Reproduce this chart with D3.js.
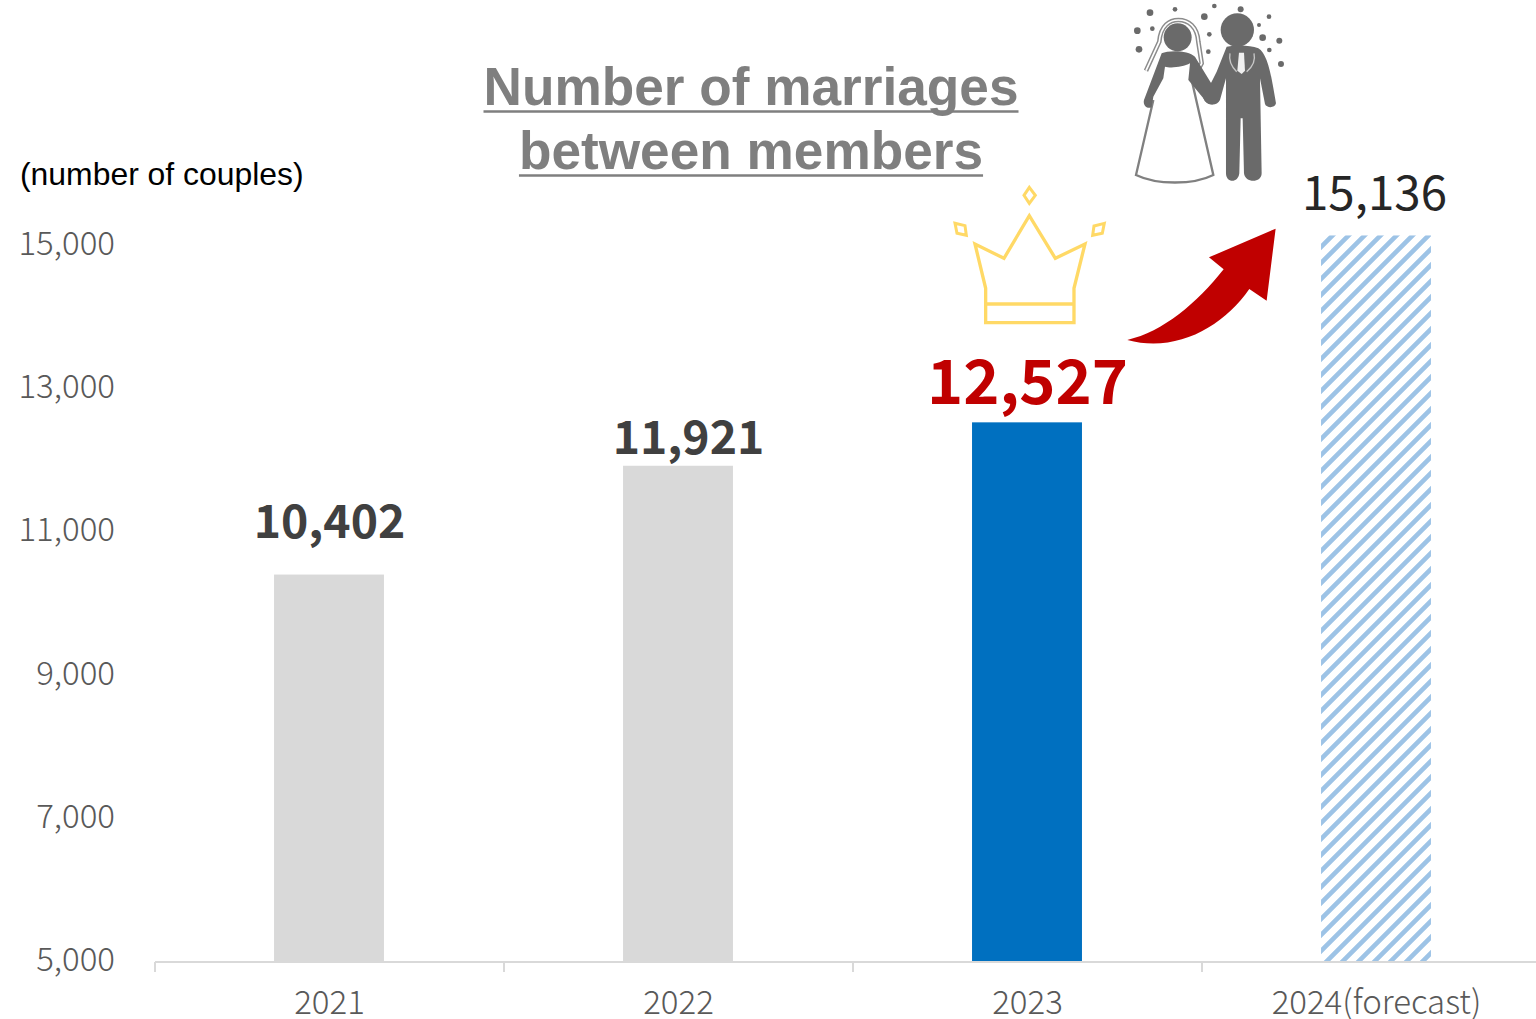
<!DOCTYPE html>
<html>
<head>
<meta charset="utf-8">
<script src="https://cdn.jsdelivr.net/npm/d3@7/dist/d3.min.js"></script>
<style>
html,body{margin:0;padding:0;background:#fff;overflow:hidden}
svg{display:block}
.cjk{font-family:"Noto Sans CJK JP","Noto Sans",sans-serif}
.latin{font-family:"Liberation Sans",Arial,sans-serif}
</style>
</head>
<body>
<svg id="chart" width="1536" height="1019"></svg>
<script>
// Marriages between members, by year
const years = ["2021", "2022", "2023", "2024(forecast)"];
const couples = [10402, 11921, 12527, 15136];
const yTicks = [5000, 7000, 9000, 11000, 13000, 15000];
const titleLines = ["Number of marriages", "between members"];
const unitLabel = "(number of couples)";

const svg = d3.select("#chart");
const fmt = d3.format(",");

const x = d3.scaleBand().domain(years).range([155, 1551])
  .paddingInner(0.685).paddingOuter(0.3425);
const y = d3.scaleLinear().domain([5000, 15000]).range([961, 244.7]);

// Diagonal hatch for the forecast year
const defs = svg.append("defs");
const hatch = defs.append("pattern").attr("id", "hatch")
  .attr("patternUnits", "userSpaceOnUse").attr("width", 16).attr("height", 16);
hatch.append("path")
  .attr("d", "M-4,4L4,-4M0,16L16,0M12,20L20,12")
  .attr("stroke", "#9DC3E6").attr("stroke-width", 4.6).attr("fill", "none");
defs.append("filter").attr("id", "soft")
  .append("feGaussianBlur").attr("stdDeviation", 0.9);

// Bars
const barFill = ["#D9D9D9", "#D9D9D9", "#0070C0", "url(#hatch)"];
svg.append("g").selectAll("rect").data(couples).join("rect")
  .attr("x", (d, i) => x(years[i]) - 0.5)
  .attr("y", d => y(d) + 0.5)
  .attr("width", x.bandwidth())
  .attr("height", d => y(5000) - y(d))
  .attr("fill", (d, i) => barFill[i]);

// Value axis: labels only
const yAxis = svg.append("g").attr("transform", "translate(115,0)")
  .call(d3.axisLeft(y).tickValues(yTicks).tickSize(0).tickPadding(0).tickFormat(fmt));
yAxis.select(".domain").remove();
yAxis.selectAll("text").attr("class", "cjk")
  .attr("font-size", 33).attr("font-weight", 300).attr("fill", "#595959")
  .attr("x", 0).attr("dy", "0.29em");

// Category axis with ticks on the band boundaries
const xAxis = svg.append("g").attr("transform", "translate(0,962)")
  .call(d3.axisBottom(x).tickSize(0).tickPadding(0));
xAxis.select(".domain").remove();
xAxis.selectAll("text").attr("class", "cjk")
  .attr("font-size", 33).attr("font-weight", 300).attr("fill", "#595959")
  .attr("y", 52).attr("dy", 0);
svg.append("line").attr("x1", 155).attr("x2", 1536).attr("y1", 962).attr("y2", 962)
  .attr("stroke", "#D9D9D9").attr("stroke-width", 2);
svg.append("g").selectAll("line").data(years).join("line")
  .attr("x1", d => x(d) - x.step() * x.paddingOuter())
  .attr("x2", d => x(d) - x.step() * x.paddingOuter())
  .attr("y1", 962).attr("y2", 972)
  .attr("stroke", "#D9D9D9").attr("stroke-width", 2);

// Value labels
const labelStyle = [
  {size: 46.3, weight: 700, fill: "#404040", dx: 0, dy: -36},
  {size: 46.3, weight: 700, fill: "#404040", dx: 10, dy: -11},
  {size: 61.4, weight: 700, fill: "#C00000", dx: 0, dy: -18},
  {size: 47.5, weight: 400, fill: "#262626", dx: -2, dy: -25}
];
svg.append("g").selectAll("text").data(couples).join("text")
  .attr("class", "cjk")
  .attr("x", (d, i) => x(years[i]) + x.bandwidth() / 2 + labelStyle[i].dx)
  .attr("y", (d, i) => y(d) + labelStyle[i].dy)
  .attr("text-anchor", "middle")
  .attr("font-size", (d, i) => labelStyle[i].size)
  .attr("font-weight", (d, i) => labelStyle[i].weight)
  .attr("fill", (d, i) => labelStyle[i].fill)
  .text(d => fmt(d));

// Title with hand-ruled underlines, and the unit caption
const titles = svg.append("g").selectAll("g").data(titleLines).join("g")
  .attr("transform", (d, i) => `translate(751,${105 + i * 64})`);
titles.append("text")
  .attr("class", "latin")
  .attr("text-anchor", "middle")
  .attr("font-size", 53.2).attr("font-weight", 700).attr("fill", "#7F7F7F")
  .text(d => d);
titles.append("line")
  .attr("stroke", "#7F7F7F").attr("stroke-width", 2.4).attr("y1", 6.5).attr("y2", 6.5)
  .attr("x1", function () { return -this.parentNode.querySelector("text").getComputedTextLength() / 2; })
  .attr("x2", function () { return this.parentNode.querySelector("text").getComputedTextLength() / 2; });
svg.append("text").attr("class", "latin")
  .attr("x", 20).attr("y", 185).attr("font-size", 31.9).attr("fill", "#000")
  .text(unitLabel);

// Crown above the 2023 bar
const crown = svg.append("g").attr("transform", "translate(930,170) scale(0.3333)")
  .attr("fill", "none").attr("stroke", "#FFD966").attr("stroke-width", 10);
crown.append("path").attr("d", "M167,458L167,355L135,222L222,265L298,137L376,265L465,222L432,355L432,458Z");
crown.append("path").attr("d", "M167,402H432");
crown.append("path").attr("stroke-width", 9).attr("d", "M298,52L316,76L298,100L282,76Z");
crown.append("path").attr("stroke-width", 9).attr("d", "M75,160L105,167L109,196L81,190Z");
crown.append("path").attr("stroke-width", 9).attr("d", "M523,160L492,168L488,196L517,190Z");

// Growth arrow towards the forecast
svg.append("path").attr("transform", "translate(930,170) scale(0.3333)")
  .attr("fill", "#C00000")
  .attr("d", "M592,510C700,485,800,400,881,298L837,262L1037,176L1010,392L958,357C880,470,740,550,592,510Z");

// Bride and groom pictogram
const couple = svg.append("g").attr("transform", "translate(1120,0) scale(0.3333)")
  .attr("filter", "url(#soft)");
const ink = "#6B6B6B";
couple.append("path").attr("fill", "none").attr("stroke", "#808080").attr("stroke-width", 7)
  .attr("d", "M100,300L48,525C110,555,220,555,280,525L215,240");
const veil = "M78,212L118,125C122,75,150,60,175,60C205,60,232,80,235,125L245,190L218,240";
couple.append("path").attr("fill", "none").attr("stroke", "#8C8C8C").attr("stroke-width", 14).attr("d", veil);
couple.append("path").attr("fill", "none").attr("stroke", "#fff").attr("stroke-width", 5).attr("d", veil);
couple.append("circle").attr("cx", 173).attr("cy", 112).attr("r", 42).attr("fill", ink);
couple.append("path").attr("fill", ink)
  .attr("d", "M125,160C145,150,205,150,225,170L280,260L300,290C290,318,260,322,250,295L205,240L210,190C190,202,150,205,135,200L130,235L100,290L95,322C80,328,68,315,72,300Z");
couple.append("circle").attr("cx", 352).attr("cy", 90).attr("r", 50).attr("fill", ink);
couple.append("path").attr("fill", ink)
  .attr("d", "M320,140C350,135,390,135,415,145C440,160,452,210,468,310C465,325,440,325,435,312L420,235L425,520C425,550,375,550,372,520L368,355H362L358,520C355,550,318,550,318,520L318,235L300,300C290,320,262,318,250,295L290,215Z");
couple.append("path").attr("fill", "#F0F0F0").attr("d", "M357,158H372L375,212L365,222L352,212Z");
couple.append("path").attr("fill", "none").attr("stroke", "#C8C8C8").attr("stroke-width", 4)
  .attr("d", "M330,160C325,185,340,205,350,215M402,160C408,185,392,205,380,215");
couple.append("g").attr("fill", ink)
  .selectAll("circle")
  .data([[90,38,10],[165,28,7],[253,50,10],[283,18,7],[362,28,9],[447,50,7],[52,92,10],[97,86,7],[268,103,7],[417,75,6],[428,113,10],[478,122,9],[57,148,10],[265,155,7],[448,150,7],[483,192,9]])
  .join("circle").attr("cx", d => d[0]).attr("cy", d => d[1]).attr("r", d => d[2]);
</script>
</body>
</html>
